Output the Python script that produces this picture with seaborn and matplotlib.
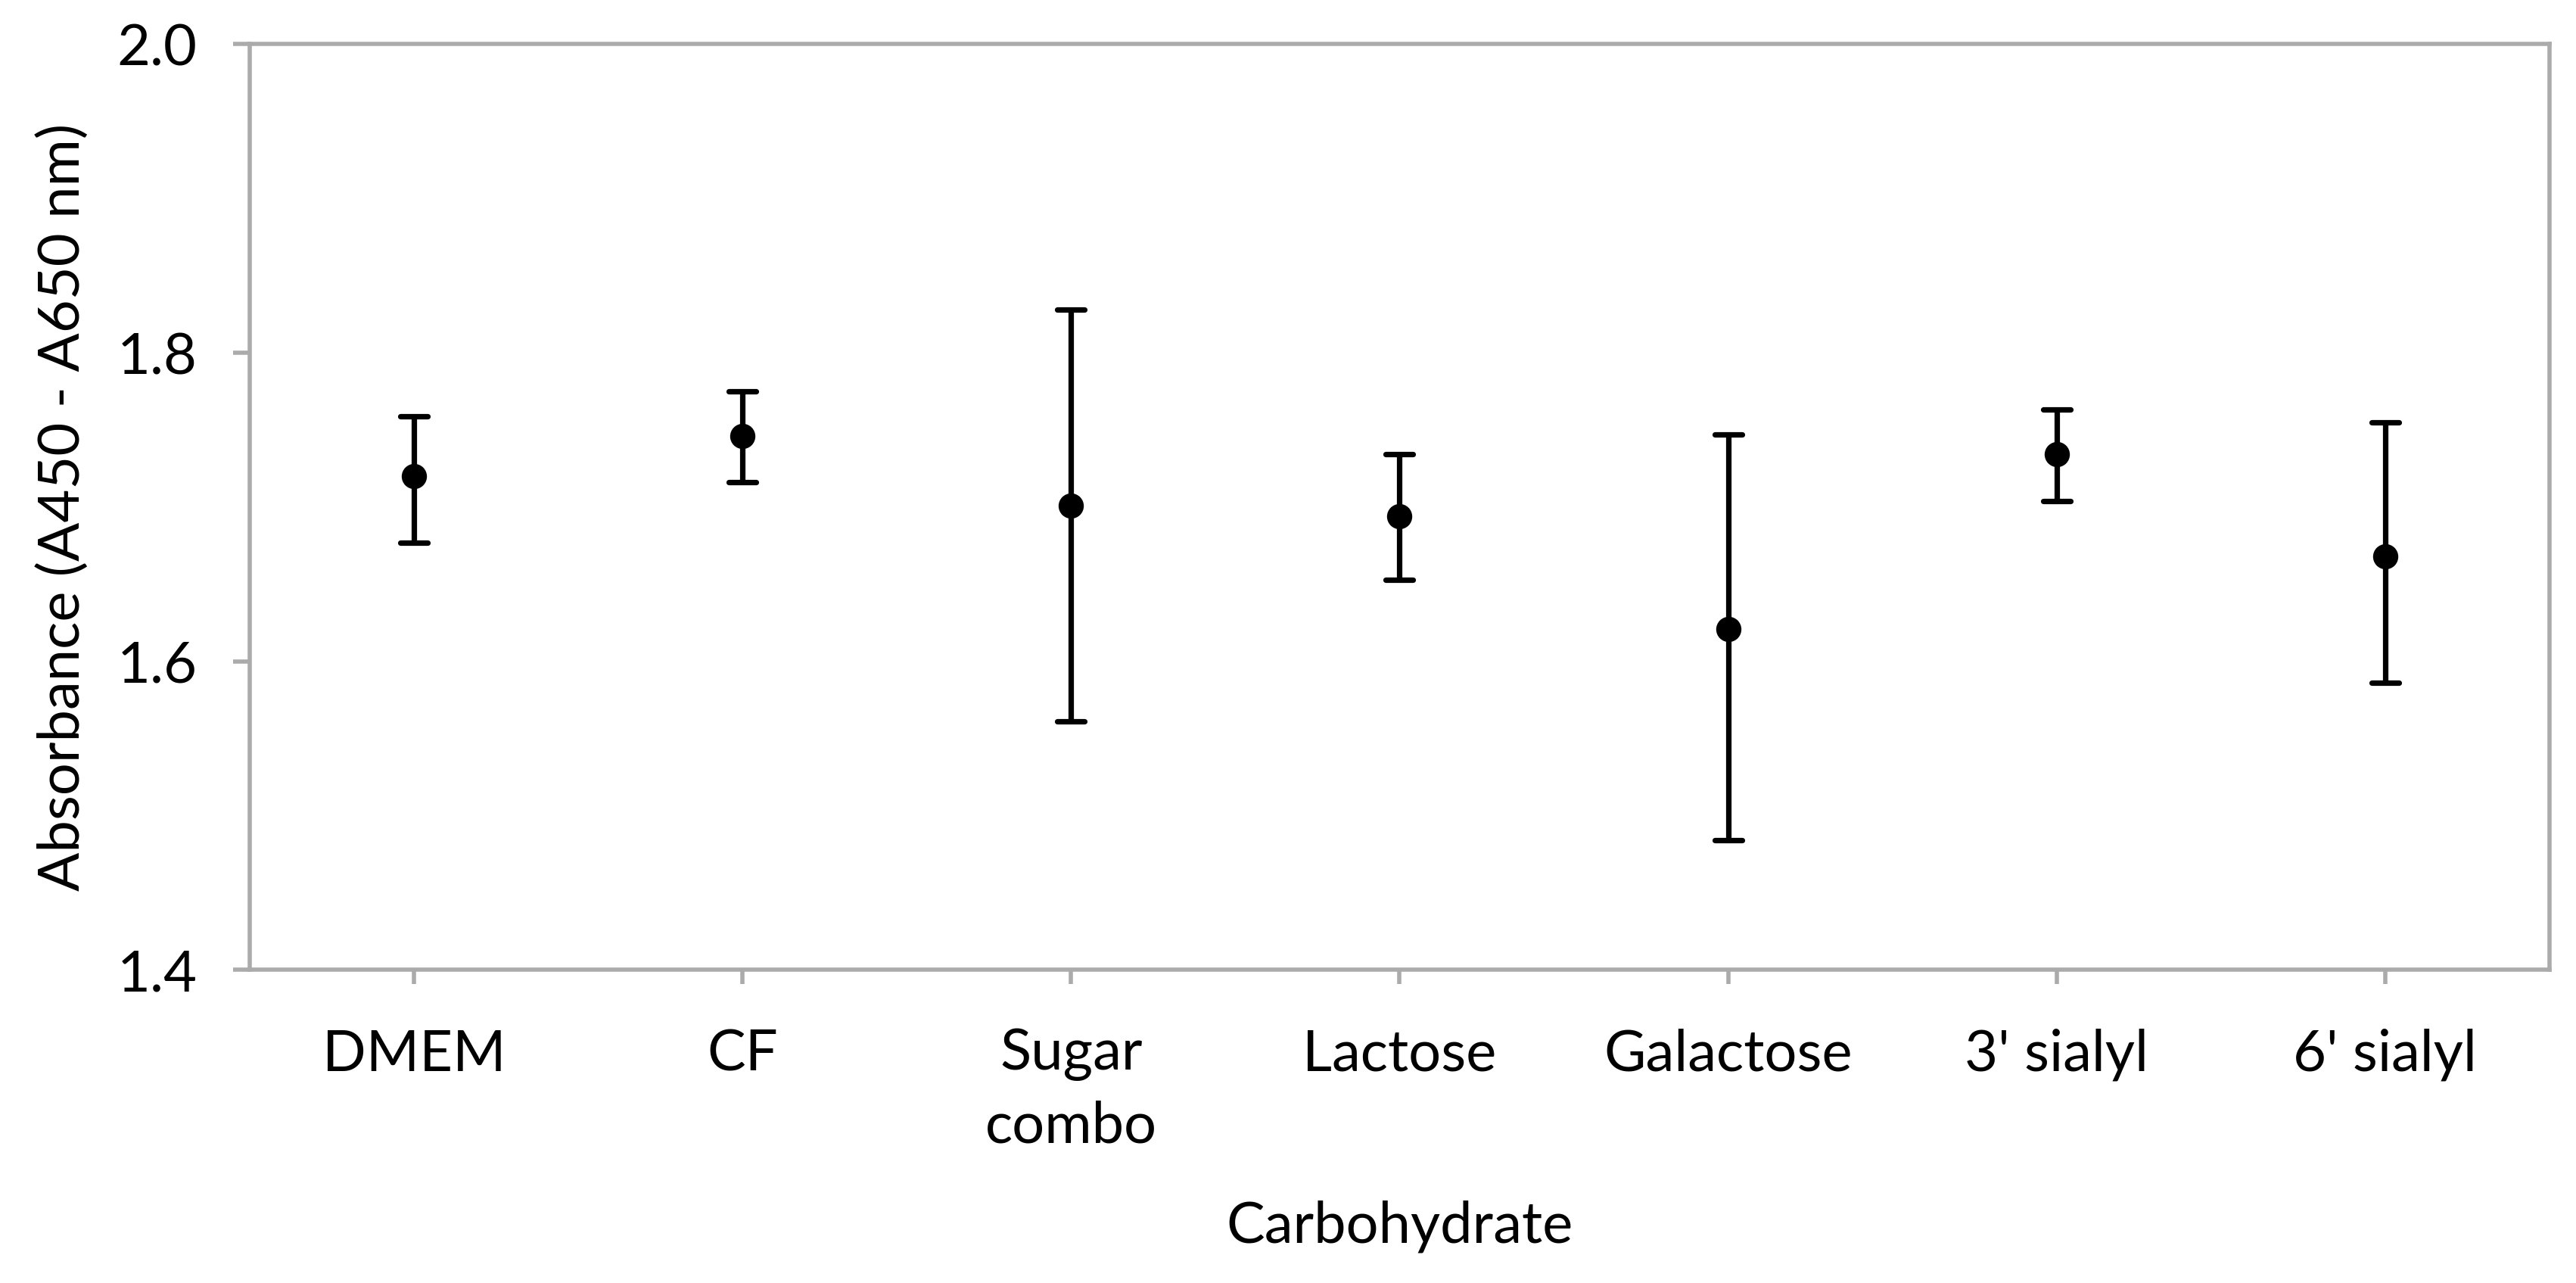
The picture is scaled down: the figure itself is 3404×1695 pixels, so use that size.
import numpy as np
import pandas as pd
import matplotlib
matplotlib.use("Agg")
import matplotlib.pyplot as plt
import seaborn as sns

# values (mean with lower / upper error bar ends)
categories = ["DMEM", "CF", "Sugar\ncombo", "Lactose", "Galactose", "3' sialyl", "6' sialyl"]
means = [1.720, 1.746, 1.701, 1.694, 1.621, 1.734, 1.668]
lower = [1.677, 1.716, 1.561, 1.653, 1.484, 1.704, 1.586]
upper = [1.759, 1.775, 1.828, 1.734, 1.747, 1.763, 1.755]
y_ticks = [1.4, 1.6, 1.8, 2.0]

# long form: each category gets its low / mean / high, median picks the mean,
# and the min-max interval gives the error bar
rows = []
for cat, lo, m, hi in zip(categories, lower, means, upper):
    for v in (lo, m, hi):
        rows.append({"Carbohydrate": cat, "Absorbance": v})
df = pd.DataFrame(rows)

sns.set_style("white")
plt.rcParams['font.family'] = ['Lato', 'DejaVu Sans']

GREY = "#ababab"
FS = 27.3

fig = plt.figure(figsize=(17.02, 8.475), dpi=200)
ax = fig.add_axes([0.0969, 0.2442, 0.8928, 0.7213])

sns.pointplot(data=df, x="Carbohydrate", y="Absorbance", order=categories,
              estimator="median", errorbar=lambda v: (v.min(), v.max()),
              color="black", markers="o", linestyle="none",
              capsize=0.083, err_kws={"linewidth": 2.6},
              markersize=12, markeredgewidth=0, ax=ax)

ax.set_xlim(-0.5, len(categories) - 0.5)
ax.set_ylim(1.4, 2.0)
ax.set_yticks(y_ticks)
ax.set_yticklabels([f"{t:.1f}" for t in y_ticks])

for side in ["left", "right", "top", "bottom"]:
    ax.spines[side].set_visible(True)
    ax.spines[side].set_color(GREY)
    ax.spines[side].set_linewidth(2.0)

ax.tick_params(axis="both", which="major", direction="out", color=GREY,
               width=2.0, labelsize=FS, labelcolor="black")
ax.tick_params(axis="x", length=7, pad=21, bottom=True)
ax.tick_params(axis="y", length=8, pad=17, left=True)
for lab in ax.get_xticklabels():
    lab.set_linespacing(1.45)

ax.set_xlabel("Carbohydrate", fontsize=FS, color="black")
ax.set_ylabel("Absorbance (A450 - A650 nm)", fontsize=FS, color="black")
ax.xaxis.set_label_coords(0.5, -0.2487)
ax.yaxis.set_label_coords(-0.0698, 0.5)

fig.savefig("out.png", dpi=200, facecolor="white")
